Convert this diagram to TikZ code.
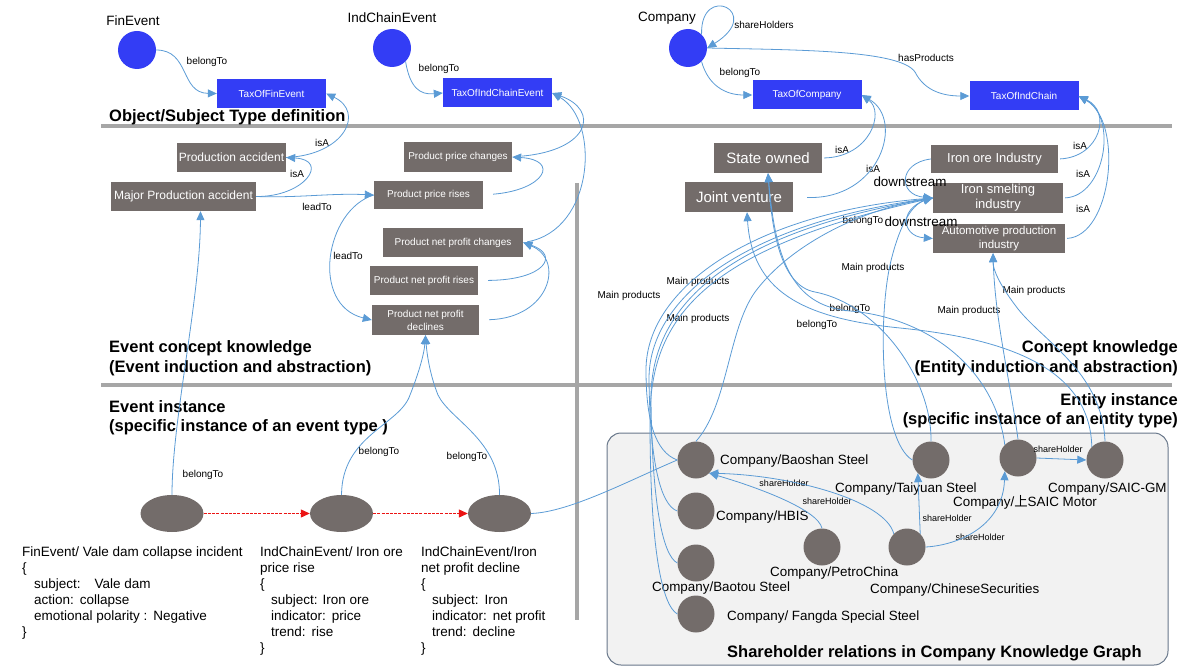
\documentclass[tikz,border=0pt]{standalone}
\usepackage{fontspec}
\setmainfont{Liberation Sans}
\newfontfamily\cjkf{Noto Sans CJK SC}
\usetikzlibrary{arrows.meta,shapes.geometric}
\definecolor{tblue}{RGB}{51,61,245}
\definecolor{gboxc}{RGB}{115,108,106}
\definecolor{eblue}{RGB}{91,155,213}
\definecolor{sepg}{RGB}{166,166,166}
\definecolor{panelf}{RGB}{242,242,242}
\definecolor{paneld}{RGB}{104,119,138}
\definecolor{redl}{RGB}{235,20,20}
\begin{document}
\begin{tikzpicture}[x=1pt,y=-1pt,
  typec/.style={circle,fill=tblue,minimum size=38pt,inner sep=0pt},
  taxbox/.style={rectangle,fill=tblue,text=white,font=\fontsize{10}{12}\selectfont,minimum width=109pt,minimum height=29pt,inner sep=0pt},
  gbox/.style={rectangle,fill=gboxc,text=white,inner sep=0pt,align=center},
  ent/.style={circle,fill=gboxc,minimum size=37pt,inner sep=0pt},
  evnode/.style={ellipse,fill=gboxc,minimum width=63pt,minimum height=37pt,inner sep=0pt},
  lbl/.style={font=\fontsize{10}{12}\selectfont,inner sep=0pt},
  shl/.style={font=\fontsize{9}{11}\selectfont,inner sep=0pt},
  toplbl/.style={font=\fontsize{13.5}{16}\selectfont,inner sep=0pt},
  head/.style={font=\bfseries\fontsize{16.5}{19}\selectfont,inner sep=0pt},
  clbl/.style={font=\fontsize{13.4}{16}\selectfont,inner sep=0pt,anchor=west},
  dstream/.style={font=\fontsize{13.4}{16}\selectfont,inner sep=0pt},
  evtxt/.style={font=\fontsize{13.5}{16}\selectfont,align=left,anchor=north west,inner sep=0pt},
  edge/.style={draw=eblue,line width=0.8pt},
  arr/.style={edge,-{Triangle[length=9pt,width=8pt]}},
  redarr/.style={draw=redl,line width=1.1pt,dash pattern=on 3pt off 1.2pt,-{Triangle[length=9pt,width=8pt]}},
  sepline/.style={draw=sepg,line width=3.5pt}]
\useasboundingbox (0,0) rectangle (1185,671);

% panel and separators
\draw[fill=panelf,draw=paneld,line width=1pt,rounded corners=14pt] (607,433) rectangle (1168,665);
\draw[sepline] (101,126) -- (1172,126);
\draw[sepline] (101,385) -- (1172,385);
\draw[sepline] (577,183) -- (577,620);

% ---- type definition ----
\node[typec] (finC) at (137,50) {};
\node[toplbl] (finL) at (133,21) {FinEvent};
\node[taxbox] (taxFin) at (271.5,93.5) {TaxOfFinEvent};
\node[typec] (indC) at (392,48) {};
\node[toplbl] (indL) at (392,18) {IndChainEvent};
\node[taxbox] (taxICE) at (497.5,93) {TaxOfIndChainEvent};
\node[typec] (coC) at (688,48) {};
\node[toplbl] (coL) at (667,18) {Company};
\node[taxbox] (taxCo) at (807,95) {TaxOfCompany};
\node[taxbox] (taxIC) at (1024,96) {TaxOfIndChain};
\node[lbl] (lb1) at (207,62) {belongTo};
\node[lbl] (lb2) at (439,69) {belongTo};
\node[lbl] (lb3) at (740,73) {belongTo};
\node[lbl] (lb4) at (764,25) {shareHolders};
\node[lbl] (lb5) at (926,58) {hasProducts};
\node[head,anchor=west] (h1) at (109,117) {Object/Subject Type definition};

% ---- event concepts ----
\node[gbox,minimum width=109pt,minimum height=29pt,font=\fontsize{12}{14}\selectfont] (pa) at (231.5,157.5) {Production accident};
\node[gbox,minimum width=145pt,minimum height=29pt,font=\fontsize{12}{14}\selectfont] (mpa) at (183.5,196.5) {Major Production accident};
\node[gbox,minimum width=108pt,minimum height=30pt,font=\fontsize{10}{12}\selectfont] (ppc) at (458,157) {Product price changes};
\node[gbox,minimum width=109pt,minimum height=28pt,font=\fontsize{10}{12}\selectfont] (ppr) at (428.5,195) {Product price rises};
\node[gbox,minimum width=140pt,minimum height=29pt,font=\fontsize{10}{12}\selectfont] (pnpc) at (453,242.5) {Product net profit changes};
\node[gbox,minimum width=108pt,minimum height=29pt,font=\fontsize{10}{12}\selectfont] (pnpr) at (424,280.5) {Product net profit rises};
\node[gbox,minimum width=107pt,minimum height=30pt,font=\fontsize{10}{13}\selectfont] (pnpd) at (425.5,320) {Product net profit\\declines};
\node[lbl] (li1) at (322,143) {isA};
\node[lbl] (li2) at (297,174) {isA};
\node[lbl] (ll1) at (317,207) {leadTo};
\node[lbl] (ll2) at (348,256) {leadTo};
\node[head,anchor=west] (h2) at (109,348) {Event concept knowledge};
\node[head,anchor=west] (h3) at (109,368) {(Event induction and abstraction)};
\node[head,anchor=west] (h4) at (109,407) {Event instance};
\node[head,anchor=west] (h5) at (109,427) {(specific instance of an event type )};

% ---- entity concepts ----
\node[gbox,minimum width=108pt,minimum height=30pt,font=\fontsize{15}{17}\selectfont] (so) at (768,158) {State owned};
\node[gbox,minimum width=108pt,minimum height=30pt,font=\fontsize{15}{17}\selectfont] (jv) at (739,197) {Joint venture};
\node[gbox,minimum width=127pt,minimum height=28pt,font=\fontsize{13}{15}\selectfont] (ore) at (994.5,159) {Iron ore Industry};
\node[gbox,minimum width=130pt,minimum height=30pt,font=\fontsize{13}{15}\selectfont] (smelt) at (998,198) {Iron smelting\\industry};
\node[gbox,minimum width=132pt,minimum height=29pt,font=\fontsize{11.5}{14}\selectfont] (auto) at (999,238.5) {Automotive production\\industry};
\node[lbl] (lc1) at (842,150) {isA};
\node[lbl] (lc2) at (873,169) {isA};
\node[lbl] (lc3) at (1080,146) {isA};
\node[lbl] (lc4) at (1083,174) {isA};
\node[lbl] (lc5) at (1083,209) {isA};
\node[lbl] (lc6) at (863,221) {belongTo};
\node[lbl] (lm1) at (629,296) {Main products};
\node[lbl] (lm2) at (698,282) {Main products};
\node[lbl] (lm3) at (698,319) {Main products};
\node[lbl] (lm4) at (873,268) {Main products};
\node[lbl] (lm5) at (969,311) {Main products};
\node[lbl] (lm6) at (1034,291) {Main products};
\node[lbl] (lbt1) at (850,309) {belongTo};
\node[lbl] (lbt2) at (817,325) {belongTo};
\node[head,anchor=east] (h6) at (1178,348) {Concept knowledge};
\node[head,anchor=east] (h7) at (1178,368) {(Entity induction and abstraction)};
\node[head,anchor=east] (h8) at (1178,401) {Entity instance};
\node[head,anchor=east] (h9) at (1178,420) {(specific instance of an entity type)};

% ---- event instances ----
\node[evnode] (e1) at (172,513.5) {};
\node[evnode] (e2) at (341.5,513.5) {};
\node[evnode] (e3) at (499.5,513.5) {};
\node[lbl] (le1) at (203,475) {belongTo};
\node[lbl] (le2) at (379,452) {belongTo};
\node[lbl] (le3) at (467,457) {belongTo};
\node[evtxt] (t1) at (22,547) {FinEvent/ Vale dam collapse incident\\
\{\\
\hspace*{12pt}subject:\hspace{14pt}Vale dam\\
\hspace*{12pt}action:\hspace{6pt}collapse\\
\hspace*{12pt}emotional polarity :\hspace{6pt}Negative\\
\}};
\node[evtxt] (t2) at (260,547) {IndChainEvent/ Iron ore\\
price rise\\
\{\\
\hspace*{11pt}subject: Iron ore\\
\hspace*{11pt}indicator:\hspace{6pt}price\\
\hspace*{11pt}trend:\hspace{6pt}rise\\
\}};
\node[evtxt] (t3) at (421,547) {IndChainEvent/Iron\\
net profit decline\\
\{\\
\hspace*{11pt}subject:\hspace{6pt}Iron\\
\hspace*{11pt}indicator:\hspace{6pt}net profit\\
\hspace*{11pt}trend:\hspace{6pt}decline\\
\}};

% ---- entity instances ----
\node[ent] (bao) at (696,460) {};
\node[ent] (hbis) at (696,511) {};
\node[ent] (baotou) at (696,563) {};
\node[ent] (fangda) at (696,614) {};
\node[ent] (petro) at (822,547) {};
\node[ent] (cs) at (907,547) {};
\node[ent] (taiyuan) at (931,460) {};
\node[ent] (saicm) at (1018,458) {};
\node[ent] (saicgm) at (1105,460) {};
\node[clbl] (nb1) at (720,461) {Company/Baoshan Steel};
\node[clbl] (nb2) at (716,517) {Company/HBIS};
\node[clbl] (nb3) at (652,588) {Company/Baotou Steel};
\node[clbl] (nb4) at (727,617) {Company/ Fangda Special Steel};
\node[clbl] (nb5) at (770,573) {Company/PetroChina};
\node[clbl] (nb6) at (870,590) {Company/ChineseSecurities};
\node[clbl] (nb7) at (835,489) {Company/Taiyuan Steel};
\node[clbl] (nb8) at (953,502) {Company/{\cjkf 上}SAIC Motor};
\node[clbl] (nb9) at (1048,489) {Company/SAIC-GM};
\node[shl] (ls1) at (784,483) {shareHolder};
\node[shl] (ls2) at (827,501) {shareHolder};
\node[shl] (ls3) at (947,518) {shareHolder};
\node[shl] (ls4) at (980,537) {shareHolder};
\node[shl] (ls5) at (1058,449) {shareHolder};
\node[head,anchor=west] (h10) at (727,653) {Shareholder relations in Company Knowledge Graph};
\node[dstream] (ds1) at (910,182) {downstream};
\node[dstream] (ds2) at (921,222) {downstream};

% ===== connectors =====
% top
\draw[arr] (finC.east) .. controls (190,50) and (180,93) .. (taxFin.west);
\draw[arr] (indC.south east) .. controls (410,88) and (420,95) .. (taxICE.west);
\draw[arr] (coC.south east) .. controls (708,85) and (725,95) .. (taxCo.west);
\draw[arr] (coC.north east) .. controls (700,-18) and (765,12) .. (coC.east);
\draw[arr] (coC.east) .. controls (800,50) and (900,50) .. (915,72) .. controls (925,92) and (945,96) .. (taxIC.west);

% event concepts
\draw[arr] (pa.east) .. controls (345,155) and (365,112) .. (taxFin.east);
\draw[arr] (mpa.east) .. controls (305,197) and (330,160) .. (pa.east);
\draw[arr] (mpa.east) .. controls (300,198) and (330,193) .. (ppr.west);
\draw[arr] (ppr.west) .. controls (325,210) and (310,305) .. (pnpd.west);
\draw[arr,shorten <=10pt] (ppr.east) .. controls (545,190) and (560,160) .. (ppc.east);
\draw[arr,shorten <=10pt] (ppc.east) .. controls (590,150) and (600,110) .. (taxICE.east);
\draw[arr,shorten <=4pt] (pnpc.east) .. controls (595,230) and (600,120) .. (taxICE.east);
\draw[arr,shorten <=10pt] (pnpr.east) .. controls (545,280) and (560,255) .. (pnpc.east);
\draw[arr,shorten <=10pt] (pnpd.east) .. controls (550,318) and (565,260) .. (pnpc.east);

% event instances
\draw[arr] (e1.north) .. controls (172,420) and (200,300) .. ([xshift=17pt]mpa.south);
\draw[arr] (e2.north) .. controls (342,435) and (400,425) .. (410,395) .. controls (418,375) and (424,355) .. (pnpd.south);
\draw[arr] (e3.north) .. controls (500,440) and (450,420) .. (438,395) .. controls (430,375) and (427,355) .. (pnpd.south);
\draw[redarr] (e1.east) -- (e2.west);
\draw[redarr] (e2.east) -- (e3.west);
\draw[edge] (e3.east) .. controls (570,512) and (630,480) .. (bao.west);

% entity concepts
\draw[arr] (ore.west) .. controls (898,163) and (898,195) .. (smelt.west);
\draw[arr] (smelt.west) .. controls (898,205) and (900,236) .. (auto.west);
\draw[arr,shorten <=2pt] (so.east) .. controls (870,157) and (885,112) .. (taxCo.east);
\draw[arr,shorten <=14pt] (jv.east) .. controls (880,200) and (905,120) .. (taxCo.east);
\draw[arr,shorten <=2pt] (ore.east) .. controls (1100,157) and (1112,112) .. (taxIC.east);
\draw[arr,shorten <=2pt] (smelt.east) .. controls (1105,196) and (1118,118) .. (taxIC.east);
\draw[arr,shorten <=2pt] (auto.east) .. controls (1112,236) and (1124,122) .. (taxIC.east);

% entity instances -> concepts
\draw[arr] (bao.west) .. controls (655,452) and (646,420) .. (646,370) .. controls (646,285) and (760,212) .. (smelt.west);
\draw[arr] (hbis.west) .. controls (660,505) and (650,460) .. (649,380) .. controls (648,300) and (740,225) .. (smelt.west);
\draw[arr] (baotou.west) .. controls (662,555) and (652,500) .. (651,400) .. controls (650,310) and (720,235) .. (smelt.west);
\draw[arr] (fangda.west) .. controls (662,605) and (650,550) .. (650,420) .. controls (650,320) and (700,250) .. (smelt.west);
\draw[arr] (bao.north) .. controls (728,405) and (728,330) .. (755,292) .. controls (790,245) and (860,210) .. (smelt.west);
\draw[arr] (taiyuan.west) .. controls (880,440) and (878,320) .. (890,265) .. controls (898,230) and (910,205) .. (smelt.west);
\draw[arr] (taiyuan.north) .. controls (932,380) and (880,305) .. (815,292) .. controls (782,286) and (772,235) .. (so.south);
\draw[arr] (saicm.north west) .. controls (995,370) and (930,318) .. (850,311) .. controls (790,306) and (775,255) .. (so.south);
\draw[arr] (saicgm.north west) .. controls (1090,365) and (1000,338) .. (900,328) .. controls (800,318) and (752,290) .. ([xshift=8pt]jv.south);
\draw[arr] (saicm.north) .. controls (1010,380) and (995,320) .. ([xshift=-6pt]auto.south);
\draw[arr] (saicgm.north) .. controls (1102,370) and (1040,340) .. (1015,305) .. controls (1000,285) and (993,270) .. ([xshift=-6pt]auto.south);

% shareholder relations
\draw[arr] (petro.north) .. controls (818,510) and (760,488) .. (bao.south east);
\draw[arr] (cs.north west) .. controls (885,500) and (790,475) .. (bao.south east);
\draw[arr] (cs.north east) -- (taiyuan.south west);
\draw[arr] (cs.east) .. controls (960,545) and (1003,525) .. (saicm.south west);
\draw[arr] (saicm.east) -- (saicgm.west);
\end{tikzpicture}
\end{document}
